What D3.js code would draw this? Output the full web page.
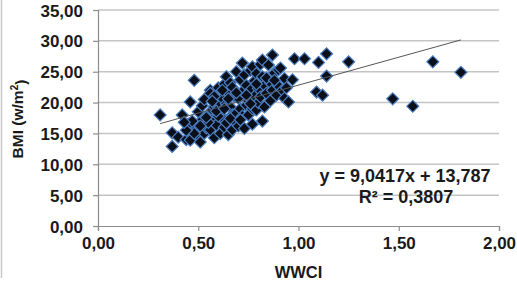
<!DOCTYPE html>
<html><head><meta charset="utf-8">
<script src="https://cdn.jsdelivr.net/npm/d3@7"></script>
<style>body{margin:0;background:#fff;}svg{display:block;font-family:"Liberation Sans",Arial,sans-serif;}</style>
</head><body>
<script>
const wwci = [0.31,0.37,0.37,0.40,0.42,0.44,0.46,0.46,0.48,0.49,0.50,0.51,0.52,0.53,0.54,0.55,0.56,0.56,0.56,0.57,0.57,0.58,0.58,0.59,0.60,0.60,0.61,0.61,0.62,0.62,0.63,0.63,0.64,0.64,0.64,0.65,0.65,0.66,0.66,0.67,0.67,0.67,0.68,0.68,0.69,0.69,0.70,0.70,0.71,0.71,0.72,0.72,0.72,0.73,0.73,0.74,0.74,0.75,0.75,0.76,0.76,0.77,0.77,0.77,0.78,0.78,0.79,0.79,0.80,0.80,0.81,0.81,0.82,0.82,0.82,0.83,0.83,0.84,0.85,0.85,0.86,0.86,0.87,0.87,0.88,0.89,0.90,0.90,0.91,0.92,0.93,0.93,0.95,0.97,0.98,1.03,1.09,1.10,1.12,1.14,1.14,1.25,1.47,1.57,1.67,1.81,
  0.45,0.47,0.50,0.52,0.48,0.53,0.55,0.58,0.60,0.62,0.44,0.43,
  0.51,0.54,0.57,0.59,0.63,0.66,0.69,0.71,0.74,0.76,0.79,0.84,0.88,0.94,0.65];
const bmi = [18.0,12.9,15.1,14.4,18.0,14.0,13.9,20.1,23.6,15.9,14.6,13.6,17.2,15.0,15.9,18.0,22.0,21.5,15.6,18.8,17.2,19.3,14.3,16.4,22.4,20.0,18.0,15.0,20.7,17.5,23.0,16.0,24.2,16.7,19.8,21.5,14.8,19.3,23.2,22.5,15.6,18.0,21.0,17.0,18.3,25.0,20.7,16.2,23.7,19.0,26.4,21.8,17.8,15.8,24.5,19.6,22.8,20.3,18.0,22.0,25.2,25.8,19.0,16.5,21.0,23.5,18.8,24.7,22.3,20.0,20.9,26.2,26.9,24.2,17.0,22.8,19.3,21.5,26.1,23.8,23.2,20.3,27.7,22.0,24.8,21.2,25.3,22.7,25.6,22.0,20.7,23.9,20.1,23.7,27.1,27.1,21.7,26.5,21.2,27.9,24.3,26.6,20.6,19.4,26.6,24.9,
  16.5,17.0,18.5,19.5,15.0,20.5,16.8,21.0,17.8,22.0,15.5,16.8,
  16.2,17.6,20.2,18.6,19.0,17.4,21.6,17.2,21.2,19.8,23.0,24.0,23.6,22.4,20.6];
const xTicks = [0, 0.5, 1, 1.5, 2];
const yTicks = [0, 5, 10, 15, 20, 25, 30, 35];
const slope = 9.0417, intercept = 13.787, r2 = "0,3807";
const trendRange = [0.31, 1.81];

const W = 517, H = 281;
const svg = d3.select("body").append("svg").attr("width", W).attr("height", H);
const x = d3.scaleLinear().domain([0, 2]).range([98, 499]);
const y = d3.scaleLinear().domain([0, 35]).range([226, 10]);
const fmt = v => d3.format(".2f")(v).replace(".", ",");

// left frame line
svg.append("line").attr("x1",1.5).attr("x2",1.5).attr("y1",0).attr("y2",278).attr("stroke","#c8c8c8").attr("stroke-width",1.5);

// gridlines
svg.append("g").selectAll("line").data(yTicks.slice(1)).join("line")
  .attr("x1", x(0)).attr("x2", x(2)).attr("y1", d => y(d)).attr("y2", d => y(d))
  .attr("stroke", "#c4c4c4").attr("stroke-width", 1.5);

// axes
const xAxis = svg.append("g").attr("transform", `translate(0,${y(0)})`)
  .call(d3.axisBottom(x).tickValues(xTicks).tickFormat(fmt).tickSize(5).tickPadding(6));
const yAxis = svg.append("g").attr("transform", `translate(${x(0)},0)`)
  .call(d3.axisLeft(y).tickValues(yTicks).tickFormat(fmt).tickSize(5).tickPadding(10));
[xAxis, yAxis].forEach(a => {
  a.select(".domain").attr("stroke", "#8c8c8c").attr("stroke-width", 1.2);
  a.selectAll(".tick line").attr("stroke", "#8c8c8c").attr("stroke-width", 1.2);
  a.selectAll("text").attr("font-size", 17).attr("font-weight", "bold").attr("fill", "#1a1a1a")
    .attr("font-family", '"Liberation Sans",Arial,sans-serif');
});
yAxis.selectAll("text").attr("dy", "0.36em");

// points
const pts = wwci.map((v, i) => ({x: v, y: bmi[i]}));
svg.append("g").selectAll("path").data(pts).join("path")
  .attr("d", d3.symbol().type(d3.symbolSquare).size(72))
  .attr("transform", d => `translate(${x(d.x)},${y(d.y)}) rotate(45)`)
  .attr("fill", "#0b0f1a").attr("stroke", "#4a7ec0").attr("stroke-width", 1.2);

// trendline
svg.append("line")
  .attr("x1", x(trendRange[0])).attr("y1", y(slope*trendRange[0]+intercept))
  .attr("x2", x(trendRange[1])).attr("y2", y(slope*trendRange[1]+intercept))
  .attr("stroke", "#555").attr("stroke-width", 1);

// equation
const eq = svg.append("g").attr("font-weight", "bold").attr("font-size", 18).attr("fill", "#1a1a1a").attr("text-anchor", "middle");
eq.append("text").attr("x", 405).attr("y", 182).text("y = " + String(slope).replace(".", ",") + "x + " + String(intercept).replace(".", ","));
eq.append("text").attr("x", 406).attr("y", 203).text("R² = " + r2);

// axis titles
svg.append("text").attr("x", x(1)).attr("y", 278).attr("text-anchor", "middle")
  .attr("font-size", 16.5).attr("font-weight", "bold").attr("fill", "#1a1a1a").text("WWCI");
const yt = svg.append("text").attr("transform", "translate(23,119) rotate(-90)").attr("text-anchor", "middle")
  .attr("font-size", 15.5).attr("font-weight", "bold").attr("fill", "#1a1a1a");
yt.append("tspan").text("BMI (w/m");
yt.append("tspan").attr("font-size", 10).attr("dy", "-0.5em").text("2");
yt.append("tspan").attr("dy", "0.5em").text(")");
</script>
</body></html>
